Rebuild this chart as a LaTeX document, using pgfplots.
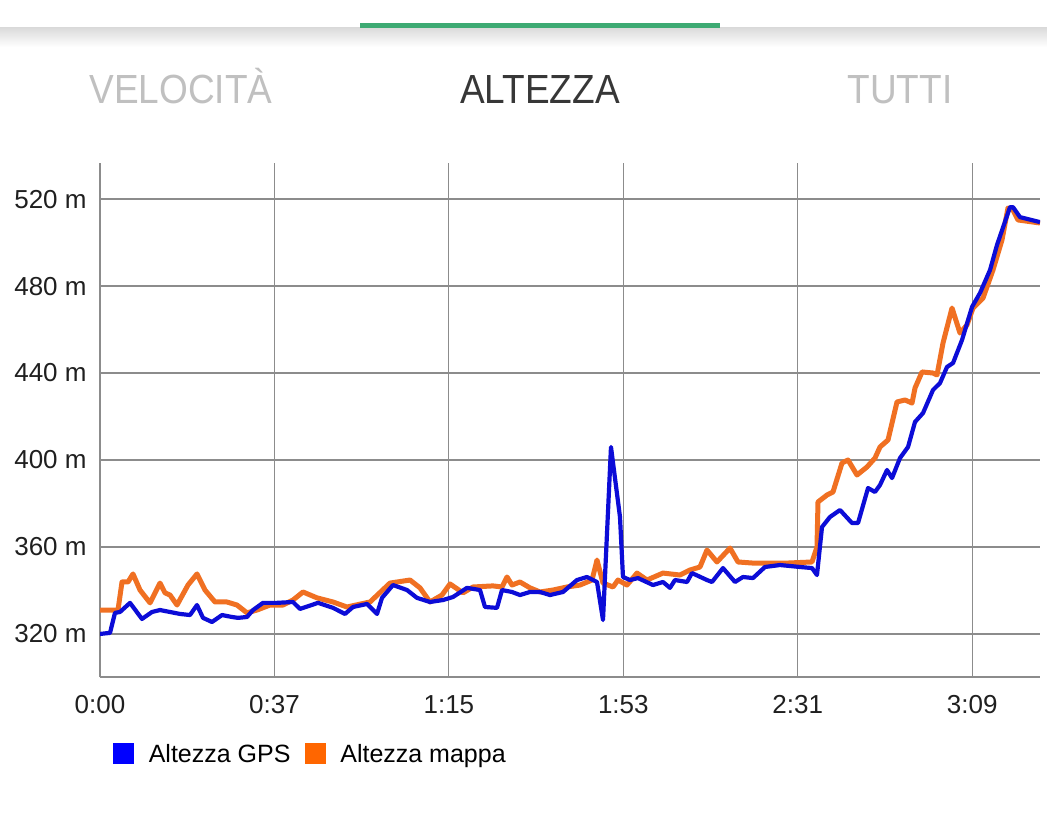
\documentclass[border=0pt]{standalone}
\usepackage{pgfplots}
\pgfplotsset{compat=1.18}
\usepackage{fontspec}
\setmainfont{Liberation Sans}

\definecolor{gpsblue}{RGB}{12,12,215}
\definecolor{maporange}{RGB}{240,112,34}
\definecolor{legblue}{RGB}{0,0,255}
\definecolor{legorange}{RGB}{255,102,0}
\definecolor{gridgray}{RGB}{140,140,140}
\definecolor{tabgreen}{RGB}{61,170,115}
\definecolor{tabgray}{RGB}{192,192,192}
\definecolor{tabdark}{RGB}{55,55,55}

% time in minutes, altitude in m
\pgfplotstableread{
t m
0 320.0
2.17 320.5
3.25 329.7
4.33 330.1
6.50 334.3
9.10 326.9
11.27 330.1
13.00 331.0
15.17 330.1
17.34 329.2
19.50 328.7
21.02 333.3
22.32 327.4
24.27 325.5
26.44 328.7
28.60 327.8
29.90 327.4
31.85 327.8
33.16 331.0
35.32 334.3
38.36 334.3
41.82 334.7
43.34 331.5
47.24 334.3
50.49 332.0
53.09 329.2
54.83 332.4
57.86 333.8
60.03 329.2
61.11 336.6
63.49 342.5
66.53 340.2
68.69 336.6
71.51 334.7
74.33 335.6
76.50 337.0
79.53 341.2
82.35 340.2
83.43 332.4
86.03 332.0
87.11 340.2
89.28 339.3
91.01 337.9
93.18 339.3
95.35 339.3
97.51 337.9
100.33 339.3
103.36 344.8
105.53 346.2
107.70 343.9
109.00 326.4
110.73 406.0
112.68 373.8
113.33 346.2
114.85 344.8
116.58 345.7
119.83 342.5
122.00 343.9
123.51 341.2
124.60 344.8
127.20 343.9
128.28 348.0
131.53 344.8
132.62 343.9
135.00 350.3
137.60 343.9
139.34 346.2
141.50 345.7
144.10 350.8
147.35 351.7
151.69 350.8
154.29 350.3
155.37 347.1
156.46 369.2
158.19 373.8
160.36 377.0
162.96 371.0
164.26 371.0
166.43 387.1
167.94 385.3
169.03 388.5
170.54 395.4
171.63 391.7
173.36 400.9
175.10 406.0
176.61 417.5
178.35 421.6
180.51 432.2
182.03 435.4
183.55 442.8
184.85 444.6
186.80 455.2
188.97 470.4
190.70 476.8
192.87 487.4
194.38 498.9
197.20 516.3
197.84 516.3
199.36 511.7
203.70 509.4
}\gpsdata

\pgfplotstableread{
t m
0 331.0
3.90 331.0
4.77 343.9
6.07 343.9
7.15 347.6
8.67 340.2
10.84 334.3
13.00 343.4
14.09 338.9
15.17 337.9
16.69 333.3
19.07 342.5
21.02 347.6
22.75 340.2
24.92 334.7
27.52 334.7
29.69 333.3
31.85 329.7
34.02 331.0
36.84 333.3
39.66 333.3
41.82 335.6
43.99 339.3
47.02 336.6
50.49 334.7
53.52 332.4
58.51 334.7
62.84 343.4
67.18 344.8
69.34 341.2
71.51 334.7
74.11 337.9
75.85 343.0
78.66 338.9
80.83 341.6
85.16 342.1
87.11 341.6
88.20 346.2
89.28 342.5
91.01 343.9
93.18 341.2
95.35 339.3
98.17 340.2
101.20 341.6
104.02 342.5
106.62 344.8
107.70 354.0
109.00 343.4
111.17 341.6
112.25 344.8
114.20 342.5
116.37 348.0
118.53 344.8
122.00 348.0
125.69 347.1
127.85 349.4
130.02 350.8
131.53 358.6
133.70 353.1
136.52 359.5
138.25 353.1
141.50 352.6
148.87 352.6
154.29 353.1
155.37 360.0
155.59 380.7
157.54 383.9
158.84 385.3
160.79 398.6
162.09 400.0
164.04 393.1
166.21 396.8
167.94 400.9
169.03 406.0
170.76 409.2
172.71 426.7
174.44 427.6
175.96 426.2
176.61 433.1
178.13 440.5
180.51 440.0
181.38 439.1
182.68 453.8
184.63 469.9
186.36 458.4
187.88 462.1
189.18 469.9
191.35 474.5
193.51 487.4
195.46 501.2
196.76 515.9
197.84 515.0
198.93 510.4
203.70 509.0
}\mapdata

\begin{document}
\begin{tikzpicture}
\path[use as bounding box] (0,0) rectangle (523.5pt,409.5pt);
\fill[white] (0,0) rectangle (523.5pt,409.5pt);

% tab bar
\shade[top color=black!14, bottom color=white] (0,386pt) rectangle (523.5pt,395.5pt);
\fill[tabgreen] (180pt,395.5pt) rectangle (360pt,398.2pt);
\node[anchor=base, inner sep=0pt, yscale=1.1, text=tabgray, font=\fontsize{18.5pt}{22pt}\selectfont] at (90.5pt,357.5pt) {VELOCITÀ};
\node[anchor=base, inner sep=0pt, yscale=1.1, text=tabdark, font=\fontsize{18.5pt}{22pt}\selectfont] at (270pt,357.5pt) {ALTEZZA};
\node[anchor=base, inner sep=0pt, yscale=1.1, text=tabgray, font=\fontsize{18.5pt}{22pt}\selectfont] at (450pt,357.5pt) {TUTTI};

\begin{axis}[
    at={(50pt,71pt)}, anchor=south west,
    scale only axis, width=470pt, height=257pt,
    xmin=0, xmax=203.7, ymin=300.2, ymax=536.6,
    axis x line=bottom, axis y line=left,
    axis line style={gridgray, line width=0.6pt, -},
    grid=major, grid style={gridgray, line width=0.6pt},
    major tick length=0pt,
    xtick={0,37.8,75.6,113.4,151.2,189},
    xticklabels={0:00,0:37,1:15,1:53,2:31,3:09},
    ytick={320,360,400,440,480,520},
    yticklabels={320 m,360 m,400 m,440 m,480 m,520 m},
    ticklabel style={font=\fontsize{13pt}{15pt}\selectfont, text=black!88},
    xticklabel style={inner sep=0pt, anchor=north, yshift=-9pt},
    yticklabel style={inner sep=0pt, anchor=east, xshift=-6.5pt},
    legend columns=2,
    legend cell align=left,
    legend image code/.code={\fill[#1] (0pt,-5pt) rectangle (10pt,5pt);},
    legend style={draw=none, fill=none, inner sep=0pt, outer sep=0pt,
        at={(rel axis cs:0,0)}, anchor=north west, xshift=6.5pt, yshift=-33pt,
        font=\fontsize{12.5pt}{15pt}\selectfont,
        nodes={inner sep=0pt, text depth=0pt},
        /tikz/every odd column/.append style={column sep=7.5pt},
        /tikz/every even column/.append style={column sep=7pt}},
    legend entries={Altezza GPS, Altezza mappa},
]
\addlegendimage{color=legblue}
\addlegendimage{color=legorange}
\addplot[maporange, line width=2.5pt, line join=round, forget plot] table[x=t, y=m] {\mapdata};
\addplot[gpsblue, line width=2.1pt, line join=round, forget plot] table[x=t, y=m] {\gpsdata};
\end{axis}
\end{tikzpicture}
\end{document}
